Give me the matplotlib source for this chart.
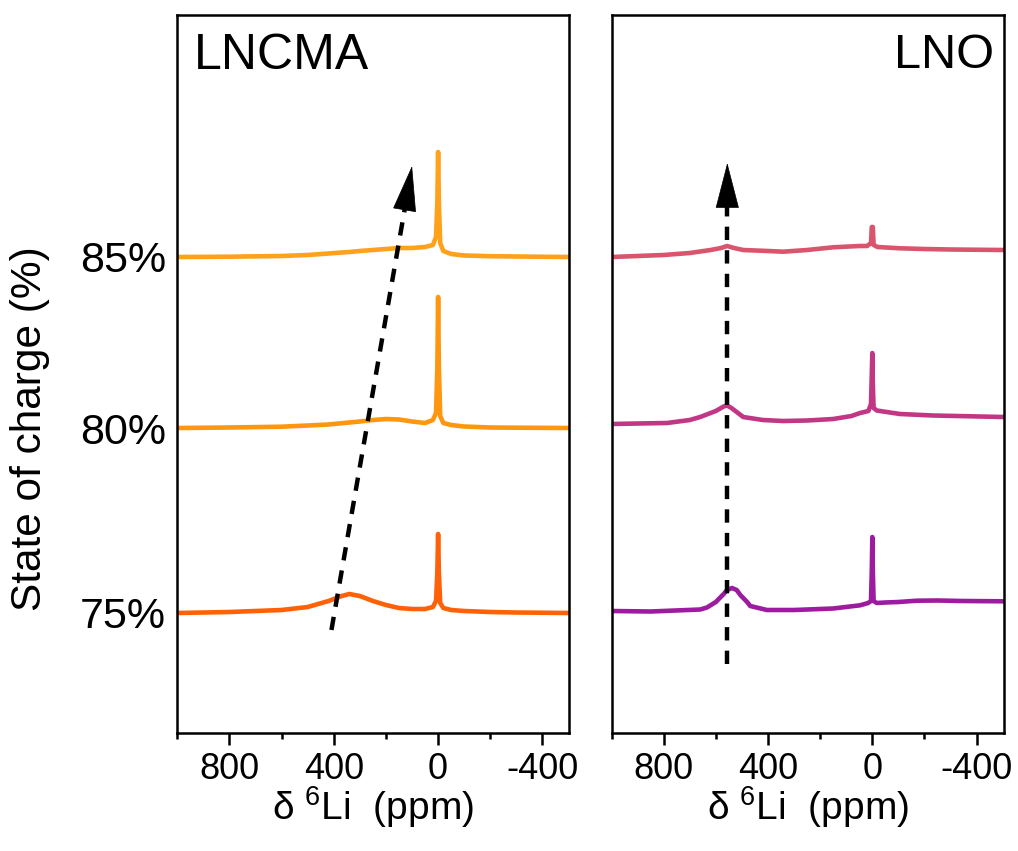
import matplotlib
matplotlib.use("Agg")
import matplotlib.pyplot as plt
from matplotlib.patches import FancyArrowPatch
from matplotlib.ticker import FixedLocator

plt.rcParams['font.family'] = ['Liberation Sans', 'DejaVu Sans']
plt.rcParams['mathtext.fontset'] = 'custom'
plt.rcParams['mathtext.rm'] = 'Liberation Sans'
plt.rcParams['mathtext.it'] = 'Liberation Sans:italic'

# ---------------- data ----------------
soc_labels = ['75%', '80%', '85%']

# LNCMA spectra (ppm, intensity a.u.)
lncma_ppm = [1000, 800, 600, 500, 420, 370, 340, 300, 250, 200, 150, 100, 50, 20, 8, 3, 0,
             -3, -8, -20, -50, -100, -200, -300, -503]
lncma_75 = [0, 1, 3, 6, 12, 17, 19, 17, 12, 8, 5, 4, 4, 6, 12, 40, 79,
            40, 10, 5, 3, 2, 1, 0.5, 0]
lncma_80 = [0, 0.5, 1.3, 2.5, 3.5, 4.8, 5.5, 6.5, 8, 9, 8.5, 6.5, 5, 8, 15, 60, 131,
            60, 12, 5, 3, 1.5, 0.5, 0.3, 0]
lncma_85 = [0, 0.3, 1, 2, 3.5, 4.5, 5, 6, 7, 8, 9, 9, 10, 12, 20, 55, 105,
            55, 14, 6, 3, 1.5, 0.8, 0.5, 0]

# LNO spectra
lno_ppm_75 = [1000, 850, 660, 634, 600, 570, 557, 538, 520, 506, 480, 468, 404, 300, 150,
              47, 16, 5, 2, 0, -2, -5, -17, -50, -100, -170, -250, -350, -503]
lno_75 = [0, -0.5, 1.5, 3.5, 9, 17, 21, 23, 21, 16, 9, 5, 1, 1, 2.5,
          5.7, 8, 10, 40, 74, 40, 10, 8, 8.5, 9, 10.3, 10.5, 10, 9.7]

lno_ppm_80 = [1000, 900, 787, 700, 660, 600, 570, 557, 540, 495, 420, 342, 250, 150, 80,
              47, 15, 5, 2, 0, -2, -5, -17, -106, -233, -503]
lno_80 = [0, 0.5, 1, 4, 7, 13, 17.5, 18.5, 16, 7, 4, 3, 3.5, 5, 8,
          11, 13, 20, 50, 71, 40, 16, 13.5, 10, 8.5, 7]

lno_ppm_85 = [1000, 900, 800, 700, 620, 580, 557, 530, 495, 400, 342, 250, 150, 50, 20,
              5, 2, 0, -2, -5, -20, -106, -200, -300, -503]
lno_85 = [0, 1, 2, 4, 7, 9, 11, 9, 7, 6, 5.3, 7, 9.7, 11, 11,
          14, 30, 30, 30, 12, 10, 8.7, 8, 7.5, 7]

lncma_offsets = [120, 305, 476]
lno_offsets = [122, 309, 476]

lncma_colors = ['#ff6108', '#ff9610', '#ffa11a']
lno_colors = ['#9c1b9e', '#c23784', '#d9556e']

# arrows (ppm, offset units): start of dashed shaft, head base, tip
lncma_arrow = [(409, 103), (128, 524), (100, 567)]
lno_arrow = [(556, 69), (556, 526), (556, 570)]

x_major = [800, 400, 0, -400]
x_major_labels = ['800', '400', '0', '-400']
x_minor = [1000, 600, 200, -200]
x_label = r'$\mathregular{\delta\ ^{6}Li\ \ (ppm)}$'

# ---------------- figure ----------------
fig = plt.figure(figsize=(10.18, 8.51), dpi=100)
W, H = 1018, 851
ax1 = fig.add_axes([177.3 / W, 1 - 733 / H, 392 / W, 718 / H])
ax2 = fig.add_axes([611.5 / W, 1 - 733 / H, 392 / W, 718 / H])

lw = 3.3
for c, off, y in zip(lncma_colors, lncma_offsets, [lncma_75, lncma_80, lncma_85]):
    ax1.plot(lncma_ppm, [off + v for v in y], color=c, lw=lw,
             solid_capstyle='round', solid_joinstyle='round')
for c, off, xs, y in zip(lno_colors, lno_offsets, [lno_ppm_75, lno_ppm_80, lno_ppm_85],
                         [lno_75, lno_80, lno_85]):
    ax2.plot(xs, [off + v for v in y], color=c, lw=lw,
             solid_capstyle='round', solid_joinstyle='round')


def draw_arrow(ax, pts):
    (x0, y0), (xb, yb), (xt, yt) = pts
    ax.plot([x0, xb], [y0, yb], color='k', lw=3.2, ls=(0, (3.0, 2.3)),
            solid_capstyle='butt', dash_capstyle='butt', zorder=5)
    arr = FancyArrowPatch((xb, yb), (xt, yt),
                          arrowstyle='-|>,head_length=31,head_width=8',
                          mutation_scale=1, color='k', lw=0.5,
                          shrinkA=0, shrinkB=0, zorder=6)
    ax.add_patch(arr)


draw_arrow(ax1, lncma_arrow)
draw_arrow(ax2, lno_arrow)

for ax in (ax1, ax2):
    ax.set_xlim(1000, -503)
    ax.set_ylim(0, 718)
    ax.xaxis.set_major_locator(FixedLocator(x_major))
    ax.set_xticklabels(x_major_labels)
    ax.xaxis.set_minor_locator(FixedLocator(x_minor))
    ax.tick_params(axis='x', which='major', direction='out', length=8.5, width=1.8,
                   labelsize=26, pad=5)
    ax.tick_params(axis='x', which='minor', direction='out', length=4.3, width=1.8)
    for s in ax.spines.values():
        s.set_linewidth(1.8)
    ax.set_xlabel(x_label, fontsize=28, labelpad=-2)

ax1.set_yticks(lncma_offsets)
ax1.set_yticklabels(soc_labels)
ax1.tick_params(axis='y', length=0, labelsize=31, pad=8)
ax2.set_yticks([])

ax1.text(0.043, 0.975, 'LNCMA', transform=ax1.transAxes, fontsize=36,
         ha='left', va='top')
ax2.text(0.977, 0.975, 'LNO', transform=ax2.transAxes, fontsize=35,
         ha='right', va='top')

fig.text(30 / W, 1 - 429 / H, 'State of charge (%)', rotation=90,
         fontsize=30.5, ha='center', va='center')

fig.savefig('out.png', dpi=100)
